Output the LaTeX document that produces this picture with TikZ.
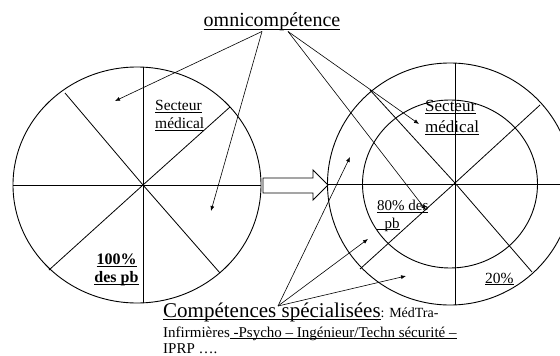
\documentclass[tikz,border=0pt]{standalone}
\usepackage{fontspec}
\setmainfont{Liberation Serif}
\usepackage{xcolor}
\usepackage{tikz}
\usetikzlibrary{arrows.meta}
\definecolor{ink}{HTML}{000000}
\newcommand\ulin[1]{\setbox0=\hbox{#1}\rlap{\rule[-0.13em]{\wd0}{0.055em}}\box0}
\tikzset{
  wheel/.style={draw=ink, line width=0.9pt},
  spoke/.style={draw=ink, line width=0.8pt},
  flow/.style={-{Latex[length=5pt,width=4pt]}, line width=0.6pt, color=ink},
  tag/.style={inner sep=0pt, text=ink, align=left},
}

\begin{document}
\begin{tikzpicture}[x=1pt, y=-1pt]
  \useasboundingbox (0,0) rectangle (560,356);

  % left wheel: one sector for all problems
  \coordinate (lc) at (143,185);
  \draw[wheel] (137,185) ellipse [x radius=124pt, y radius=118pt];
  \draw[spoke] (13,185) -- (261,185) (143,67) -- (143,303);
  \draw[spoke] (65,93) -- (lc) -- (220,273) (49,270) -- (lc) -- (230,107);

  % right wheel: inner ring + outer ring
  \coordinate (rc) at (455,183);
  \draw[wheel] (450,184) ellipse [x radius=122.5pt, y radius=121pt];
  \draw[wheel] (450,184) ellipse [x radius=87.5pt, y radius=84pt];
  \draw[spoke] (328,184) -- (560,184) (455,63) -- (455,305);
  \draw[spoke] (370,90) -- (rc) -- (532,272) (360,269) -- (rc) -- (540,105);

  % big arrow between the wheels
  \draw[wheel, fill=white] (263,178) -- (313,178) -- (313,170) -- (328,185)
    -- (313,200) -- (313,193) -- (263,193) -- cycle;

  \node[tag, anchor=base, font=\fontsize{20}{24}\selectfont] (omni) at (272,27) {\ulin{omnicompétence}};
  \node[tag, anchor=north west, font=\fontsize{15.5}{18}\selectfont] (secl) at (155,100) {\ulin{Secteur}\\\ulin{médical}};
  \node[tag, anchor=north west, font=\fontsize{17}{21}\selectfont] (secr) at (425,100) {\ulin{Secteur}\\\ulin{médical}};
  \node[tag, anchor=north, align=center, font=\fontsize{16}{18}\selectfont\bfseries] (all) at (116.5,254) {\ulin{100\%}\\\ulin{des pb}};
  \node[tag, anchor=north west, font=\fontsize{15}{17.5}\selectfont] (most) at (377,200) {\ulin{80\% des}\\\ulin{\ \ pb}};
  \node[tag, anchor=base west, font=\fontsize{15.5}{18}\selectfont] (rest) at (485,283) {\ulin{20\%}};
  \node[tag, anchor=base west, font=\fontsize{21}{24}\selectfont] (comp) at (163,317) {\ulin{Compétences spécialisées}{\fontsize{14}{16}\selectfont: MédTra-}};
  \node[tag, anchor=base west, font=\fontsize{15}{18}\selectfont] (compb) at (163,337) {Infirmières\ulin{ -Psycho – Ingénieur/Techn sécurité –}};
  \node[tag, anchor=base west, font=\fontsize{15}{18}\selectfont] (compc) at (163,353) {IPRP ….};

  % arrow ends
  \coordinate (cs) at (278,306);
  \coordinate (pl1) at (115,101);
  \coordinate (pl2) at (211,211);
  \coordinate (pr1) at (419,124);
  \coordinate (pr2) at (426,210);
  \coordinate (sp1) at (350,157);
  \coordinate (sp2) at (368,239);
  \coordinate (sp3) at (406,276);

  \draw[flow] ([xshift=-10pt]omni.south) -- (pl1);
  \draw[flow] ([xshift=-10pt]omni.south) -- (pl2);
  \draw[flow] ([xshift=16pt]omni.south) -- (pr1);
  \draw[flow] ([xshift=16pt]omni.south) -- (pr2);
  \draw[flow] (cs) -- (sp1);
  \draw[flow] (cs) -- (sp2);
  \draw[flow] (cs) -- (sp3);
\end{tikzpicture}
\end{document}
